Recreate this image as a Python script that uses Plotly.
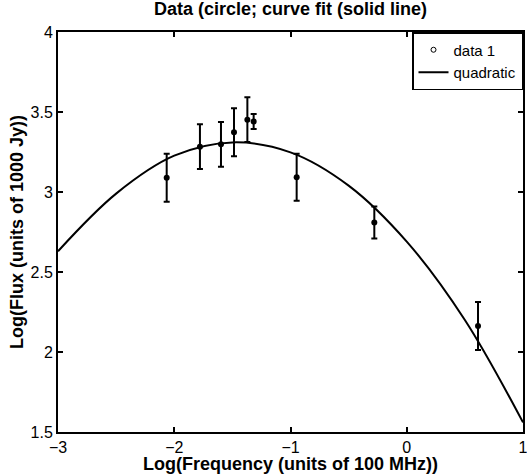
import plotly.graph_objects as go

freq_log = [-2.065, -1.779, -1.598, -1.486, -1.371, -1.317, -0.947, -0.279, 0.613]
flux_log = [3.089, 3.283, 3.298, 3.373, 3.452, 3.441, 3.092, 2.810, 2.163]
flux_err = [0.15, 0.14, 0.14, 0.15, 0.14, 0.047, 0.147, 0.10, 0.15]

# quadratic fit curve
fit_x = [-3, -2.5, -2, -1.5, -1, -0.5, 0, 0.5, 1]
fit_y = [2.63, 2.99, 3.227, 3.31, 3.248, 3.04, 2.69, 2.20, 1.56]

font = "Liberation Sans, Arial, sans-serif"

fig = go.Figure()

# data with error bars
fig.add_trace(go.Scatter(
    x=freq_log, y=flux_log, mode="markers", showlegend=False,
    marker=dict(color="black", size=6),
    error_y=dict(type="data", array=flux_err, color="black", thickness=2, width=3),
))
# legend entry for data (open circle like the original)
fig.add_trace(go.Scatter(
    x=[None], y=[None], mode="markers", name="data 1",
    marker=dict(symbol="circle-open", color="black", size=5, line=dict(width=1)),
))
fig.add_trace(go.Scatter(
    x=fit_x, y=fit_y, mode="lines", name="quadratic",
    line=dict(color="black", width=2, shape="spline", smoothing=1),
))

axis = dict(showline=True, linecolor="black", linewidth=2, mirror="allticks",
            ticks="inside", ticklen=5, tickwidth=1.5, tickcolor="black",
            showgrid=False, zeroline=False, automargin=False,
            ticklabeloverflow="allow",
            tickfont=dict(family=font, size=16, color="black"))

fig.update_xaxes(range=[-3, 1], dtick=1, tick0=-3, **axis)
fig.update_yaxes(range=[1.5, 4], dtick=0.5, tick0=1.5, **axis)

fig.update_layout(
    width=527, height=474,
    margin=dict(l=58, r=4, t=32, b=42),
    paper_bgcolor="white", plot_bgcolor="white",
    title=dict(text="<b>Data (circle; curve fit (solid line)</b>",
               x=0.5, xref="paper", y=1 - 2 / 474, yref="container", yanchor="top",
               font=dict(family=font, size=18, color="black")),
    legend=dict(x=1, y=1, xanchor="right", yanchor="top",
                bgcolor="white", bordercolor="black", borderwidth=1.5,
                font=dict(family=font, size=15, color="black"),
                itemwidth=30, tracegroupgap=0),
    annotations=[
        dict(text="<b>Log(Frequency (units of 100 MHz))</b>", xref="paper", yref="paper",
             x=0.5, y=-(464 - 432) / 400, xanchor="center", yanchor="middle",
             showarrow=False, font=dict(family=font, size=18, color="black")),
        dict(text="<b>Log(Flux (units of 1000 Jy))</b>", xref="paper", yref="paper",
             x=(17 - 58) / 465, y=0.5, xanchor="center", yanchor="middle", textangle=-90,
             showarrow=False, font=dict(family=font, size=18, color="black")),
    ],
)

# drop the default page margin so the figure sits at the window's corner
fig.write_html("out.html", config={"displayModeBar": False},
               post_script="document.body.style.margin='0';")
